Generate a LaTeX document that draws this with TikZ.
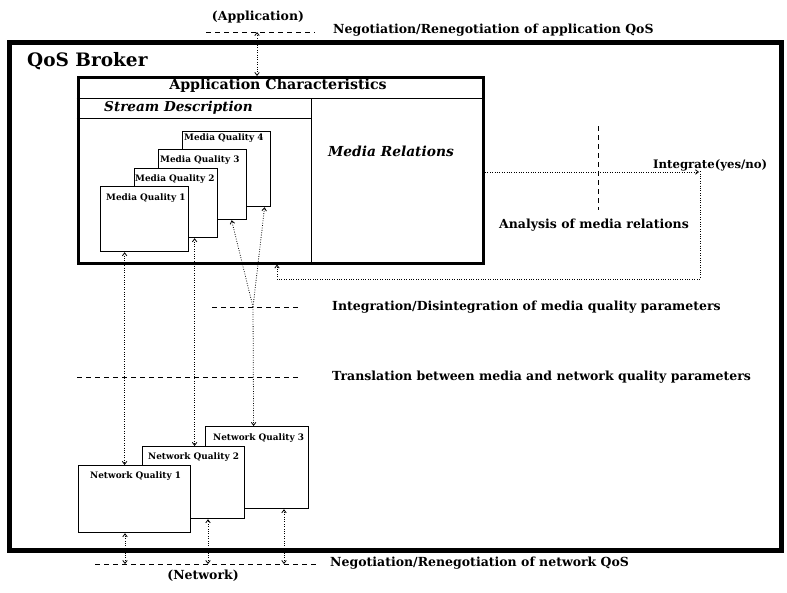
\documentclass[tikz,border=0pt]{standalone}
\usepackage{fontspec}
\setmainfont{DejaVu Serif}
\usetikzlibrary{arrows.meta}
\tikzset{
  lbl/.style={font=\bfseries\fontsize{12.5}{15}\selectfont, inner sep=0pt},
  qlbl/.style={font=\bfseries\fontsize{8.9}{10}\selectfont, inner sep=0pt, anchor=west},
  qbox/.style={draw, line width=1.2pt, fill=white, inner sep=0pt, anchor=north west},
  dotc/.style={line width=0.8pt, dash pattern=on 0.8pt off 1.6pt},
  dashc/.style={line width=1pt, dash pattern=on 5pt off 4pt},
  tip/.tip={Straight Barb[length=3pt,width=4.5pt,line width=0.8pt]},
}
\begin{document}
\begin{tikzpicture}[x=1pt,y=-1pt]
\useasboundingbox (0,0) rectangle (787,592);
% outer broker box
\draw[line width=5pt] (9.5,42.5) rectangle (781,550.5);
\node[font=\bfseries\fontsize{18.5}{22}\selectfont, inner sep=0pt, anchor=west] (broker) at (27,61) {QoS Broker};
% application characteristics box
\node[draw, line width=3pt, minimum width=405.5pt, minimum height=185.5pt, inner sep=0pt, anchor=north west] (app) at (76.5,76) {};
\coordinate (sepL) at (76.5,98);
\coordinate (sepR) at (482,98);
\draw[line width=0.7pt] (sepL) -- (sepR);
\coordinate (sdL) at (76.5,118);
\coordinate (sdR) at (311,118);
\draw[line width=0.7pt] (sdL) -- (sdR);
\coordinate (divT) at (311,98);
\coordinate (divB) at (311,261.5);
\draw[line width=0.7pt] (divT) -- (divB);
\node[font=\bfseries\fontsize{14.2}{16}\selectfont, inner sep=0pt] (apptitle) at (278,86) {Application Characteristics};
\node[font=\bfseries\itshape\fontsize{13.6}{16}\selectfont, inner sep=0pt, anchor=west] (stream) at (104,107.5) {Stream Description};
\node[font=\bfseries\itshape\fontsize{13.8}{16}\selectfont, inner sep=0pt] (mrel) at (391,151) {Media Relations};
% media quality boxes
\node[qbox, minimum width=88pt, minimum height=75pt] (mq4) at (182,131) {};
\node[qlbl] (mq4l) at (184,138) {Media Quality 4};
\node[qbox, minimum width=88pt, minimum height=70pt] (mq3) at (158,149) {};
\node[qlbl] (mq3l) at (160,160) {Media Quality 3};
\node[qbox, minimum width=83pt, minimum height=69pt] (mq2) at (134,168) {};
\node[qlbl] (mq2l) at (135,179) {Media Quality 2};
\node[qbox, minimum width=88pt, minimum height=65pt] (mq1) at (100,186) {};
\node[qlbl] (mq1l) at (106,198) {Media Quality 1};
% network quality boxes
\node[qbox, minimum width=103pt, minimum height=82pt] (nq3) at (205,426) {};
\node[qlbl] (nq3l) at (213,438) {Network Quality 3};
\node[qbox, minimum width=102pt, minimum height=72pt] (nq2) at (142,446) {};
\node[qlbl] (nq2l) at (148,457) {Network Quality 2};
\node[qbox, minimum width=112pt, minimum height=67pt] (nq1) at (78,465) {};
\node[qlbl] (nq1l) at (90,476) {Network Quality 1};
% dashed level lines
\coordinate (topL) at (206,32); \coordinate (topR) at (315,32);
\draw[dashc] (topL) -- (topR);
\coordinate (anT) at (598,126); \coordinate (anB) at (598,210);
\draw[dashc] (anT) -- (anB);
\coordinate (intL) at (212,307); \coordinate (intR) at (300,307);
\draw[dashc] (intL) -- (intR);
\coordinate (trL) at (77,377); \coordinate (trR) at (300,377);
\draw[dashc] (trL) -- (trR);
\coordinate (botL) at (95,564); \coordinate (botR) at (317,564);
\draw[dashc] (botL) -- (botR);
% labels
\node[lbl] (appl) at (258,17) {(Application)};
\node[lbl, anchor=west] (negapp) at (333,30) {Negotiation/Renegotiation of application QoS};
\node[lbl, anchor=west, font=\bfseries\fontsize{11.7}{14}\selectfont] (integ) at (653,165) {Integrate(yes/no)};
\node[lbl] (anal) at (594,225) {Analysis of media relations};
\node[lbl, anchor=west] (intdis) at (332,307) {Integration/Disintegration of media quality parameters};
\node[lbl, anchor=west] (trans) at (332,377) {Translation between media and network quality parameters};
\node[lbl, anchor=west] (negnet) at (330,563) {Negotiation/Renegotiation of network QoS};
\node[lbl] (net) at (203,576) {(Network)};
% connectors
\coordinate (appin) at (257,32);
\draw[dotc, {tip}-{tip}] (appin) -- (appin |- app.north);
\draw[dotc, {tip}-{tip}] ([xshift=-20pt]mq1.south) -- ([xshift=-10pt]nq1.north);
\draw[dotc, {tip}-{tip}] ([xshift=18.5pt]mq2.south) -- ([xshift=1pt]nq2.north);
\coordinate (junc) at (253,307);
\draw[dotc, -{tip}] (junc) -- ([xshift=29pt]mq3.south);
\draw[dotc, -{tip}] (junc) -- ([xshift=38pt]mq4.south);
\draw[dotc, -{tip}] (junc) -- ([xshift=-3.5pt]nq3.north);
\coordinate (n1) at (125,564);
\draw[dotc, {tip}-{tip}] (n1) -- (n1 |- nq1.south);
\coordinate (n2) at (208,564);
\draw[dotc, {tip}-{tip}] (n2) -- (n2 |- nq2.south);
\coordinate (n3) at (284,564);
\draw[dotc, {tip}-{tip}] (n3) -- (n3 |- nq3.south);
\coordinate (intgA) at (699,172);
\draw[dotc, -{tip}] (app.east |- intgA) -- (intgA);
\coordinate (retC) at (700,279);
\coordinate (retB) at (277,279);
\draw[dotc, -{tip}] (intgA |- app.east) ++(1,1) -- (retC) -- (retB) -- (retB |- app.south);
\end{tikzpicture}
\end{document}
